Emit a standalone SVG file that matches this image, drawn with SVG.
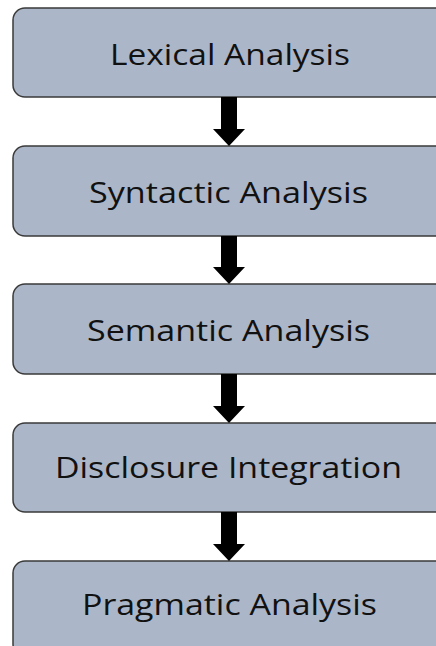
<svg xmlns="http://www.w3.org/2000/svg" width="436" height="646" viewBox="0 0 436 646">
<style>
.box{fill:#abb7c9;stroke:#3a3a3a;stroke-width:1.5}
.lbl{font-family:"Open Sans","Liberation Sans",sans-serif;font-size:30px;fill:#111;text-anchor:middle}
.arr{fill:#000}
</style>
<rect width="436" height="646" fill="#fff"/>
<g id="lexical"><rect class="box" x="13" y="8" width="440" height="89" rx="12"/><text class="lbl" x="230" y="65" textLength="240" lengthAdjust="spacingAndGlyphs">Lexical Analysis</text></g>
<g id="syntactic"><rect class="box" x="13" y="146" width="440" height="90" rx="12"/><text class="lbl" x="228.5" y="203" textLength="279" lengthAdjust="spacingAndGlyphs">Syntactic Analysis</text></g>
<g id="semantic"><rect class="box" x="13" y="284" width="440" height="90" rx="12"/><text class="lbl" x="228.5" y="341" textLength="283" lengthAdjust="spacingAndGlyphs">Semantic Analysis</text></g>
<g id="disclosure"><rect class="box" x="13" y="423" width="440" height="89" rx="12"/><text class="lbl" x="228.5" y="478" textLength="347" lengthAdjust="spacingAndGlyphs">Disclosure Integration</text></g>
<g id="pragmatic"><rect class="box" x="13" y="561" width="440" height="95" rx="12"/><text class="lbl" x="229.5" y="615" textLength="295" lengthAdjust="spacingAndGlyphs">Pragmatic Analysis</text></g>
<g id="connectors">
<polygon class="arr" points="221,97 237,97 237,129 245,129 229,146 213,129 221,129"/>
<polygon class="arr" points="221,236 237,236 237,267 245,267 229,284 213,267 221,267"/>
<polygon class="arr" points="221,374 237,374 237,406 245,406 229,423 213,406 221,406"/>
<polygon class="arr" points="221,512 237,512 237,544 245,544 229,561 213,544 221,544"/>
</g>
</svg>
